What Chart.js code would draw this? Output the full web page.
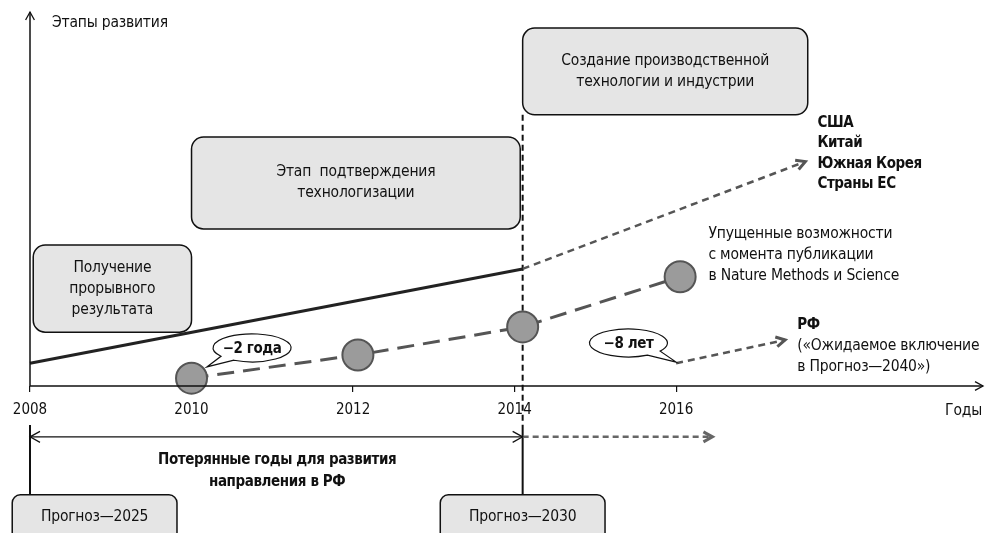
<!DOCTYPE html>
<html lang="ru">
<head>
<meta charset="UTF-8">
<title>Этапы развития</title>
<script src="https://cdn.jsdelivr.net/npm/chart.js"></script>
<style>
  html, body { margin: 0; padding: 0; background: #fff; }
  .wrap { width: 985px; height: 533px; }
</style>
</head>
<body>
<div class="wrap"><canvas id="stages" width="985" height="533"></canvas></div>
<script>
const FONT = '"Liberation Sans Narrow", "DejaVu Sans Condensed", "Roboto Condensed", sans-serif';
const REG = '15.5px ' + FONT;
const BOLD = 'bold 15px ' + FONT;

// data (x = year, y = stage level 0..100)
const tickYears = [2008, 2010, 2012, 2014, 2016];
const leaderYears = [2008, 2014.1];
const leaderLevels = [6.1, 31.3];
const leaderNextYears = [2014.1, 2017.6];
const leaderNextLevels = [31.3, 60];
const rfYears = [2010, 2012.06, 2014.1, 2016.05];
const rfLevels = [2.1, 8.3, 15.8, 29.2];
const rfNextYears = [2016, 2017.35];
const rfNextLevels = [6.1, 12.3];
const lostYears = [2008, 2014.1];
const lostNextYears = [2014.1, 2016.45];
const lostLevel = -13.6;

const zip = (xs, ys) => xs.map((x, i) => ({ x: x, y: ys[i] }));

// boxes and notes, placed in year / level units
const boxes = [
  { x0: 2008.04, x1: 2010.0, y0: 37.7, y1: 14.4, r: 12, lines: ['Получение', 'прорывного', 'результата'] },
  { x0: 2010.0, x1: 2014.07, y0: 66.6, y1: 42, r: 12, lines: ['Этап  подтверждения', 'технологизации'] },
  { x0: 2014.1, x1: 2017.63, y0: 95.7, y1: 72.5, r: 12, lines: ['Создание производственной', 'технологии и индустрии'] },
  { x0: 2007.78, x1: 2009.82, y0: -29.1, y1: -42, r: 8, lines: ['Прогноз—2025'], dy: -2 },
  { x0: 2013.08, x1: 2015.12, y0: -29.1, y1: -42, r: 8, lines: ['Прогноз—2030'], dy: -2 }
];
const callouts = [
  { x: 2010.75, y: 10.2, tipX: 2010.19, tipY: 5.1, label: '−2 года' },
  { x: 2015.41, y: 11.5, tipX: 2016.0, tipY: 6.4, label: '−8 лет' }
];

function chevron(ctx, x, y, angle, size, color, width) {
  ctx.save();
  ctx.translate(x, y);
  ctx.rotate(angle);
  ctx.beginPath();
  ctx.moveTo(-size, -size * 0.55);
  ctx.lineTo(0, 0);
  ctx.lineTo(-size, size * 0.55);
  ctx.setLineDash([]);
  ctx.strokeStyle = color;
  ctx.lineWidth = width;
  ctx.lineJoin = 'miter';
  ctx.stroke();
  ctx.restore();
}

function textLines(ctx, lines, x, y, lh, font, align) {
  ctx.font = font;
  ctx.letterSpacing = font.startsWith('bold') ? '-0.4px' : '-0.2px';
  ctx.fillStyle = '#111';
  ctx.textAlign = align || 'center';
  ctx.textBaseline = 'middle';
  lines.forEach((t, i) => ctx.fillText(t, x, y + i * lh));
  ctx.letterSpacing = '0px';
}

const decor = {
  id: 'decor',
  afterDatasetsDraw(chart) {
    const ctx = chart.ctx;
    const xs = chart.scales.x, ys = chart.scales.y;
    const px = v => xs.getPixelForValue(v);
    const py = v => ys.getPixelForValue(v);
    const area = chart.chartArea;

    // axes with arrows
    ctx.save();
    ctx.strokeStyle = '#111';
    ctx.lineWidth = 1.5;
    ctx.beginPath();
    ctx.moveTo(area.left, area.bottom);
    ctx.lineTo(area.left, area.top);
    ctx.moveTo(area.left, area.bottom);
    ctx.lineTo(area.right, area.bottom);
    ctx.stroke();
    chevron(ctx, area.left, area.top, -Math.PI / 2, 8, '#111', 1.3);
    chevron(ctx, area.right, area.bottom, 0, 8, '#111', 1.3);
    ctx.restore();

    // arrowheads on lines
    chart.data.datasets.forEach((ds, i) => {
      if (!ds.arrow) return;
      const pts = chart.getDatasetMeta(i).data;
      const a = pts[pts.length - 2], b = pts[pts.length - 1];
      const ang = Math.atan2(b.y - a.y, b.x - a.x);
      chevron(ctx, b.x, b.y, ang, ds.arrowSize, ds.borderColor, ds.arrowWidth);
      if (ds.arrow === 'both') {
        chevron(ctx, pts[0].x, pts[0].y, ang + Math.PI, ds.arrowSize, ds.borderColor, ds.arrowWidth);
      }
    });

    // rounded boxes
    boxes.forEach(b => {
      const x0 = px(b.x0), x1 = px(b.x1), y0 = py(b.y0), y1 = py(b.y1);
      ctx.save();
      ctx.beginPath();
      ctx.roundRect(x0, y0, x1 - x0, y1 - y0, b.r);
      ctx.fillStyle = '#e5e5e5';
      ctx.fill();
      ctx.strokeStyle = '#111';
      ctx.lineWidth = 1.5;
      ctx.stroke();
      const n = b.lines.length, lh = 21;
      const cy = (y0 + y1) / 2 - (n - 1) * lh / 2 + (b.dy || 0);
      textLines(ctx, b.lines, (x0 + x1) / 2, cy, lh, REG);
      ctx.restore();
    });

    // speech bubbles
    callouts.forEach(c => {
      const cx = px(c.x), cy = py(c.y), tx = px(c.tipX), ty = py(c.tipY);
      const rx = 39, ry = 14;
      const a = Math.atan2((ty - cy) / ry, (tx - cx) / rx);
      ctx.save();
      ctx.beginPath();
      ctx.ellipse(cx, cy, rx, ry, 0, a + 0.22, a - 0.22 + Math.PI * 2);
      ctx.lineTo(tx, ty);
      ctx.closePath();
      ctx.fillStyle = '#fff';
      ctx.fill();
      ctx.strokeStyle = '#111';
      ctx.lineWidth = 1.2;
      ctx.stroke();
      textLines(ctx, [c.label], cx, cy + 1, 0, BOLD);
      ctx.restore();
    });

    // notes
    ctx.save();
    textLines(ctx, ['Этапы развития'], area.left + 22, 23, 0, REG, 'left');
    textLines(ctx, ['Годы'], 982, 411, 0, REG, 'right');
    textLines(ctx, ['США', 'Китай', 'Южная Корея', 'Страны ЕС'], px(2017.75), py(70.4), 20.5, BOLD, 'left');
    textLines(ctx, ['Упущенные возможности', 'с момента публикации', 'в Nature Methods и Science'], px(2016.4), py(40.6), 21, REG, 'left');
    textLines(ctx, ['РФ'], px(2017.5), py(16.3), 0, BOLD, 'left');
    textLines(ctx, ['(«Ожидаемое включение', 'в Прогноз—2040»)'], px(2017.5), py(10.7), 21, REG, 'left');
    textLines(ctx, ['Потерянные годы для развития', 'направления в РФ'], px(2011.06), py(-19.8), 22, BOLD);
    ctx.restore();
  }
};

Chart.defaults.font.family = FONT;

new Chart(document.getElementById('stages'), {
  type: 'line',
  data: {
    datasets: [
      {
        label: 'Лидеры',
        data: zip(leaderYears, leaderLevels),
        borderColor: '#222', borderWidth: 3, pointRadius: 0
      },
      {
        label: 'Лидеры, прогноз',
        data: zip(leaderNextYears, leaderNextLevels),
        borderColor: '#555', borderWidth: 2.5, borderDash: [7, 5], pointRadius: 0,
        arrow: 'end', arrowSize: 9, arrowWidth: 3
      },
      {
        label: 'РФ',
        data: zip(rfYears, rfLevels),
        borderColor: '#555', borderWidth: 3, borderDash: [17, 9],
        pointRadius: 15.5, pointBackgroundColor: '#9b9b9b', pointBorderColor: '#555', pointBorderWidth: 2
      },
      {
        label: 'РФ, прогноз',
        data: zip(rfNextYears, rfNextLevels),
        borderColor: '#555', borderWidth: 2.5, borderDash: [7, 5], pointRadius: 0,
        arrow: 'end', arrowSize: 9, arrowWidth: 3
      },
      {
        label: 'Граница 2014',
        data: [{ x: lostYears[1], y: 72.5 }, { x: lostYears[1], y: -10.4 }],
        borderColor: '#111', borderWidth: 2, borderDash: [6, 4], pointRadius: 0
      },
      {
        label: 'Потерянные годы',
        data: lostYears.map(x => ({ x: x, y: lostLevel })),
        borderColor: '#111', borderWidth: 1.2, pointRadius: 0,
        arrow: 'both', arrowSize: 10, arrowWidth: 1.2
      },
      {
        label: 'Потерянные годы, далее',
        data: lostNextYears.map(x => ({ x: x, y: lostLevel })),
        borderColor: '#666', borderWidth: 2.5, borderDash: [6, 4], pointRadius: 0,
        arrow: 'end', arrowSize: 9, arrowWidth: 3
      },
      {
        label: 'Прогноз 2025',
        data: [{ x: lostYears[0], y: -10.4 }, { x: lostYears[0], y: -29.1 }],
        borderColor: '#111', borderWidth: 2, pointRadius: 0
      },
      {
        label: 'Прогноз 2030',
        data: [{ x: lostYears[1], y: -10.4 }, { x: lostYears[1], y: -29.1 }],
        borderColor: '#111', borderWidth: 2, pointRadius: 0
      }
    ].map(d => Object.assign({ clip: false, fill: false, tension: 0, borderCapStyle: 'butt' }, d))
  },
  options: {
    responsive: false,
    animation: false,
    devicePixelRatio: 1,
    layout: { autoPadding: false, padding: { left: 30, right: 2, top: 12, bottom: 0 } },
    plugins: { legend: { display: false }, tooltip: { enabled: false } },
    scales: {
      x: {
        type: 'linear',
        min: 2008,
        max: 2019.8,
        afterBuildTicks: s => { s.ticks = tickYears.map(v => ({ value: v })); },
        afterFit: s => { s.height = 147; s.paddingLeft = 0; s.paddingRight = 0; },
        ticks: { color: '#111', font: { size: 15 }, padding: 9, maxRotation: 0, callback: v => String(v) },
        grid: { drawOnChartArea: false, drawTicks: true, tickLength: 6, color: '#111', lineWidth: 1.2 },
        border: { display: false }
      },
      y: { display: false, min: 0, max: 100 }
    }
  },
  plugins: [decor]
});
</script>
</body>
</html>
